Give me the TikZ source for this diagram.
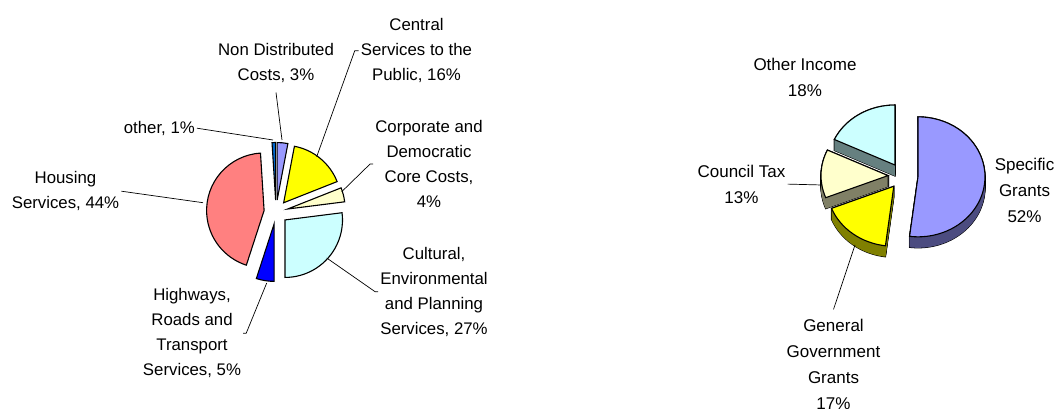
\documentclass[tikz,border=0pt]{standalone}
\usepackage{fontspec}
\setmainfont{Liberation Sans}
\usepackage{tikz}
\definecolor{lavender}{HTML}{9999FF}
\definecolor{lavenderside}{HTML}{4C4C80}
\definecolor{chartyellow}{HTML}{FFFF00}
\definecolor{yellowside}{HTML}{808000}
\definecolor{cream}{HTML}{FFFFCC}
\definecolor{creamside}{HTML}{808066}
\definecolor{icecyan}{HTML}{CCFFFF}
\definecolor{icecyanside}{HTML}{668080}
\definecolor{salmon}{HTML}{FF8080}
\definecolor{midblue}{HTML}{0066CC}
\definecolor{pureblue}{HTML}{0000FF}
% flat exploded slice: start angle, end angle, colour
\newcommand{\cutslice}[3]{%
  \pgfmathsetmacro{\midang}{(#1+#2)/2}
  \filldraw[rim,fill=#3] (\midang:12) -- ++(#1:57.5) arc[start angle=#1,end angle=#2,radius=57.5] -- cycle;}
% raised slice: start angle, end angle, top colour, side colour
\newcommand{\deepslice}[4]{%
  \pgfmathsetmacro{\midang}{(#1+#2)/2}
  \foreach \z in {0,...,11}
    \draw[rim,yshift=-\z] (\midang:15 and 13) -- ++(#1:67 and 60) arc[start angle=#1,end angle=#2,x radius=67,y radius=60] -- cycle;
  \foreach \z in {1,...,11}
    \fill[#4,yshift=-\z] (\midang:15 and 13) -- ++(#1:67 and 60) arc[start angle=#1,end angle=#2,x radius=67,y radius=60] -- cycle;
  \filldraw[rim,fill=#3] (\midang:15 and 13) -- ++(#1:67 and 60) arc[start angle=#1,end angle=#2,x radius=67,y radius=60] -- cycle;}

\begin{document}
\begin{tikzpicture}[x=1pt,y=1pt,
    rim/.style={draw=black,line width=1.1},
    leader/.style={draw=black,line width=0.7},
    lbl/.style={align=center,inner sep=2,font=\fontsize{16.8}{25}\selectfont},
    rlbl/.style={lbl,font=\fontsize{17}{26}\selectfont}]
    \path[use as bounding box,fill=white] (0,0) rectangle (1057,-409);
    % expenditure
    \begin{scope}[shift={(276,-212)}]
        \cutslice{-90}{7.2}{icecyan}
        \cutslice{7.2}{21.6}{cream}
        \cutslice{21.6}{79.2}{chartyellow}
        \cutslice{79.2}{90}{lavender}
        \cutslice{90}{93.6}{midblue}
        \cutslice{93.6}{252}{salmon}
        \cutslice{252}{270}{pureblue}
    \end{scope}
    \node[lbl] (central) at (416.5,-50.75) {Central\\Services to the\\Public, 16\%};
    \node[lbl] (nd) at (276,-62.65) {Non Distributed\\Costs, 3\%};
    \node[lbl,anchor=east] (other) at (197,-128.2) {other, 1\%};
    \node[lbl] (corp) at (429,-164) {Corporate and\\Democratic\\Core Costs,\\4\%};
    \node[lbl] (housing) at (65.5,-191.2) {Housing\\Services, 44\%};
    \node[lbl] (cult) at (434,-291.7) {Cultural,\\Environmental\\and Planning\\Services, 27\%};
    \node[lbl] (hw) at (192,-333.2) {Highways,\\Roads and\\Transport\\Services, 5\%};
    \coordinate (central-tip) at (316.7,-156.7);
    \coordinate (nd-tip) at (282,-140);
    \coordinate (other-tip) at (273,-140);
    \coordinate (corp-tip) at (341.7,-191.7);
    \coordinate (housing-tip) at (203,-202.7);
    \coordinate (cult-tip) at (326.7,-258);
    \coordinate (hw-tip) at (266.7,-283);
    \draw[leader] (central.west) -- ++(-4,0) -- (central-tip);
    \draw[leader] ([yshift=-8]nd.south) -- (nd-tip);
    \draw[leader] (other.east) -- (other-tip);
    \draw[leader] (corp.west) -- ++(-3,0) -- (corp-tip);
    \draw[leader] (housing.east) -- (housing-tip);
    \draw[leader] (cult.west) -- ++(-3,0) -- (cult-tip);
    \draw[leader] (hw.east) -- ++(3,0) -- (hw-tip);
    % income
    \begin{scope}[shift={(903,-176)}]
        \deepslice{90}{154.8}{icecyan}{icecyanside}
        \deepslice{154.8}{201.6}{cream}{creamside}
        \deepslice{201.6}{262.8}{chartyellow}{yellowside}
        \deepslice{-97.2}{90}{lavender}{lavenderside}
    \end{scope}
    \node[rlbl] (otherinc) at (805,-77.35) {Other Income\\18\%};
    \node[rlbl] (council) at (741.5,-184.1) {Council Tax\\13\%};
    \node[rlbl] (specific) at (1024.5,-190.35) {Specific\\Grants\\52\%};
    \node[rlbl] (general) at (833.5,-364.75) {General\\Government\\Grants\\17\%};
    \coordinate (council-tip) at (822,-185);
    \coordinate (general-tip) at (855,-245);
    \draw[leader] (council.east) -- (council-tip);
    \draw[leader] ([yshift=8]general.north) -- (general-tip);
\end{tikzpicture}
\end{document}
